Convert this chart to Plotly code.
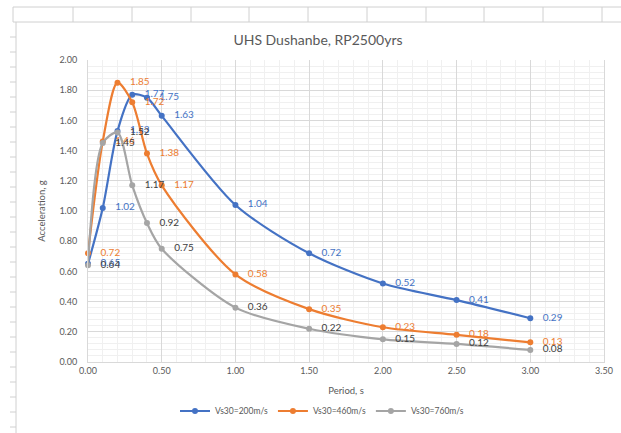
import plotly.graph_objects as go

periods = [0.0, 0.1, 0.2, 0.3, 0.4, 0.5, 1.0, 1.5, 2.0, 2.5, 3.0]
vs200 = [0.65, 1.02, 1.53, 1.77, 1.75, 1.63, 1.04, 0.72, 0.52, 0.41, 0.29]
vs460 = [0.72, 1.46, 1.85, 1.72, 1.38, 1.17, 0.58, 0.35, 0.23, 0.18, 0.13]
vs760 = [0.64, 1.45, 1.52, 1.17, 0.92, 0.75, 0.36, 0.22, 0.15, 0.12, 0.08]
series_names = ["Vs30=200m/s", "Vs30=460m/s", "Vs30=760m/s"]
line_colors = ["#4472C4", "#ED7D31", "#A5A5A5"]
label_colors = ["#4472C4", "#ED7D31", "#404040"]
x_ticks = [0.0, 0.5, 1.0, 1.5, 2.0, 2.5, 3.0, 3.5]
y_ticks = [0.0, 0.2, 0.4, 0.6, 0.8, 1.0, 1.2, 1.4, 1.6, 1.8, 2.0]

W, H = 621, 433
L, R, T, B = 88, 17, 60, 71
PW, PH = W - L - R, H - T - B
FONT = "Lato, Open Sans, sans-serif"

fig = go.Figure()
for name, ys, lc, tc in zip(series_names, [vs200, vs460, vs760], line_colors, label_colors):
    fig.add_trace(go.Scatter(
        x=periods, y=ys, name=name,
        mode="lines+markers+text",
        line=dict(color=lc, width=2.2, shape="spline", smoothing=0.8),
        marker=dict(color=lc, size=6),
        texttemplate="   %{y:.2f}", textposition="middle right",
        textfont=dict(color=tc, size=10, family=FONT),
        cliponaxis=False,
    ))

def px(x):
    return (x - L) / PW

def py(y):
    return (H - B - y) / PH

shapes = []
sheet = "#d0d0d0"
shapes.append(dict(type="line", xref="paper", yref="paper", x0=px(16), x1=px(16), y0=py(22), y1=py(433), line=dict(color=sheet, width=1)))
shapes.append(dict(type="line", xref="paper", yref="paper", x0=px(13), x1=px(621), y0=py(22), y1=py(22), line=dict(color=sheet, width=1)))
shapes.append(dict(type="line", xref="paper", yref="paper", x0=px(13), x1=px(621), y0=py(7), y1=py(7), line=dict(color=sheet, width=1)))
for cx in [13, 73, 132, 191, 249, 308, 367, 426, 484, 543, 602]:
    shapes.append(dict(type="line", xref="paper", yref="paper", x0=px(cx), x1=px(cx), y0=py(7), y1=py(22), line=dict(color=sheet, width=1)))
ry = 37
while ry < H:
    shapes.append(dict(type="line", xref="paper", yref="paper", x0=px(10), x1=px(16), y0=py(ry), y1=py(ry), line=dict(color=sheet, width=1)))
    ry += 15

fig.update_layout(
    width=W, height=H,
    margin=dict(l=L, r=R, t=T, b=B),
    paper_bgcolor="white", plot_bgcolor="white",
    font=dict(family=FONT, color="#595959", size=9),
    title=dict(text="UHS Dushanbe, RP2500yrs", x=318 / W, xanchor="center",
               y=1 - 40 / H, yanchor="middle", xref="container", yref="container",
               font=dict(size=14, color="#595959", family=FONT)),
    showlegend=True,
    legend=dict(orientation="h", xref="container", x=322 / W, xanchor="center",
                yref="container", y=1 - 411 / H, yanchor="middle",
                font=dict(size=8.5, color="#595959", family=FONT),
                itemwidth=30, tracegroupgap=0, bgcolor="rgba(0,0,0,0)"),
    shapes=shapes,
)
fig.update_xaxes(
    range=[0, 3.5], tickvals=x_ticks, ticktext=[f"{v:.2f}" for v in x_ticks],
    showgrid=True, gridcolor="#d9d9d9", gridwidth=1,
    minor=dict(dtick=0.1, showgrid=True, gridcolor="#f0f0f0", gridwidth=1),
    zeroline=False, showline=True, linecolor="#d9d9d9", automargin=False,
    title=dict(text="Period, s", font=dict(size=9.5, color="#595959"), standoff=16),
    ticks="", tickfont=dict(size=9, color="#595959"),
)
fig.update_yaxes(
    range=[0, 2.0], tickvals=y_ticks, ticktext=[f"{v:.2f}" for v in y_ticks],
    showgrid=True, gridcolor="#d9d9d9", gridwidth=1,
    minor=dict(dtick=0.04, showgrid=True, gridcolor="#f0f0f0", gridwidth=1),
    zeroline=False, showline=True, linecolor="#d9d9d9", mirror=True, automargin=False,
    ticklabelstandoff=8,
    title=dict(text="Acceleration, g", font=dict(size=9.5, color="#595959"), standoff=12),
    ticks="", tickfont=dict(size=9, color="#595959"),
)
fig.write_html("out.html")
